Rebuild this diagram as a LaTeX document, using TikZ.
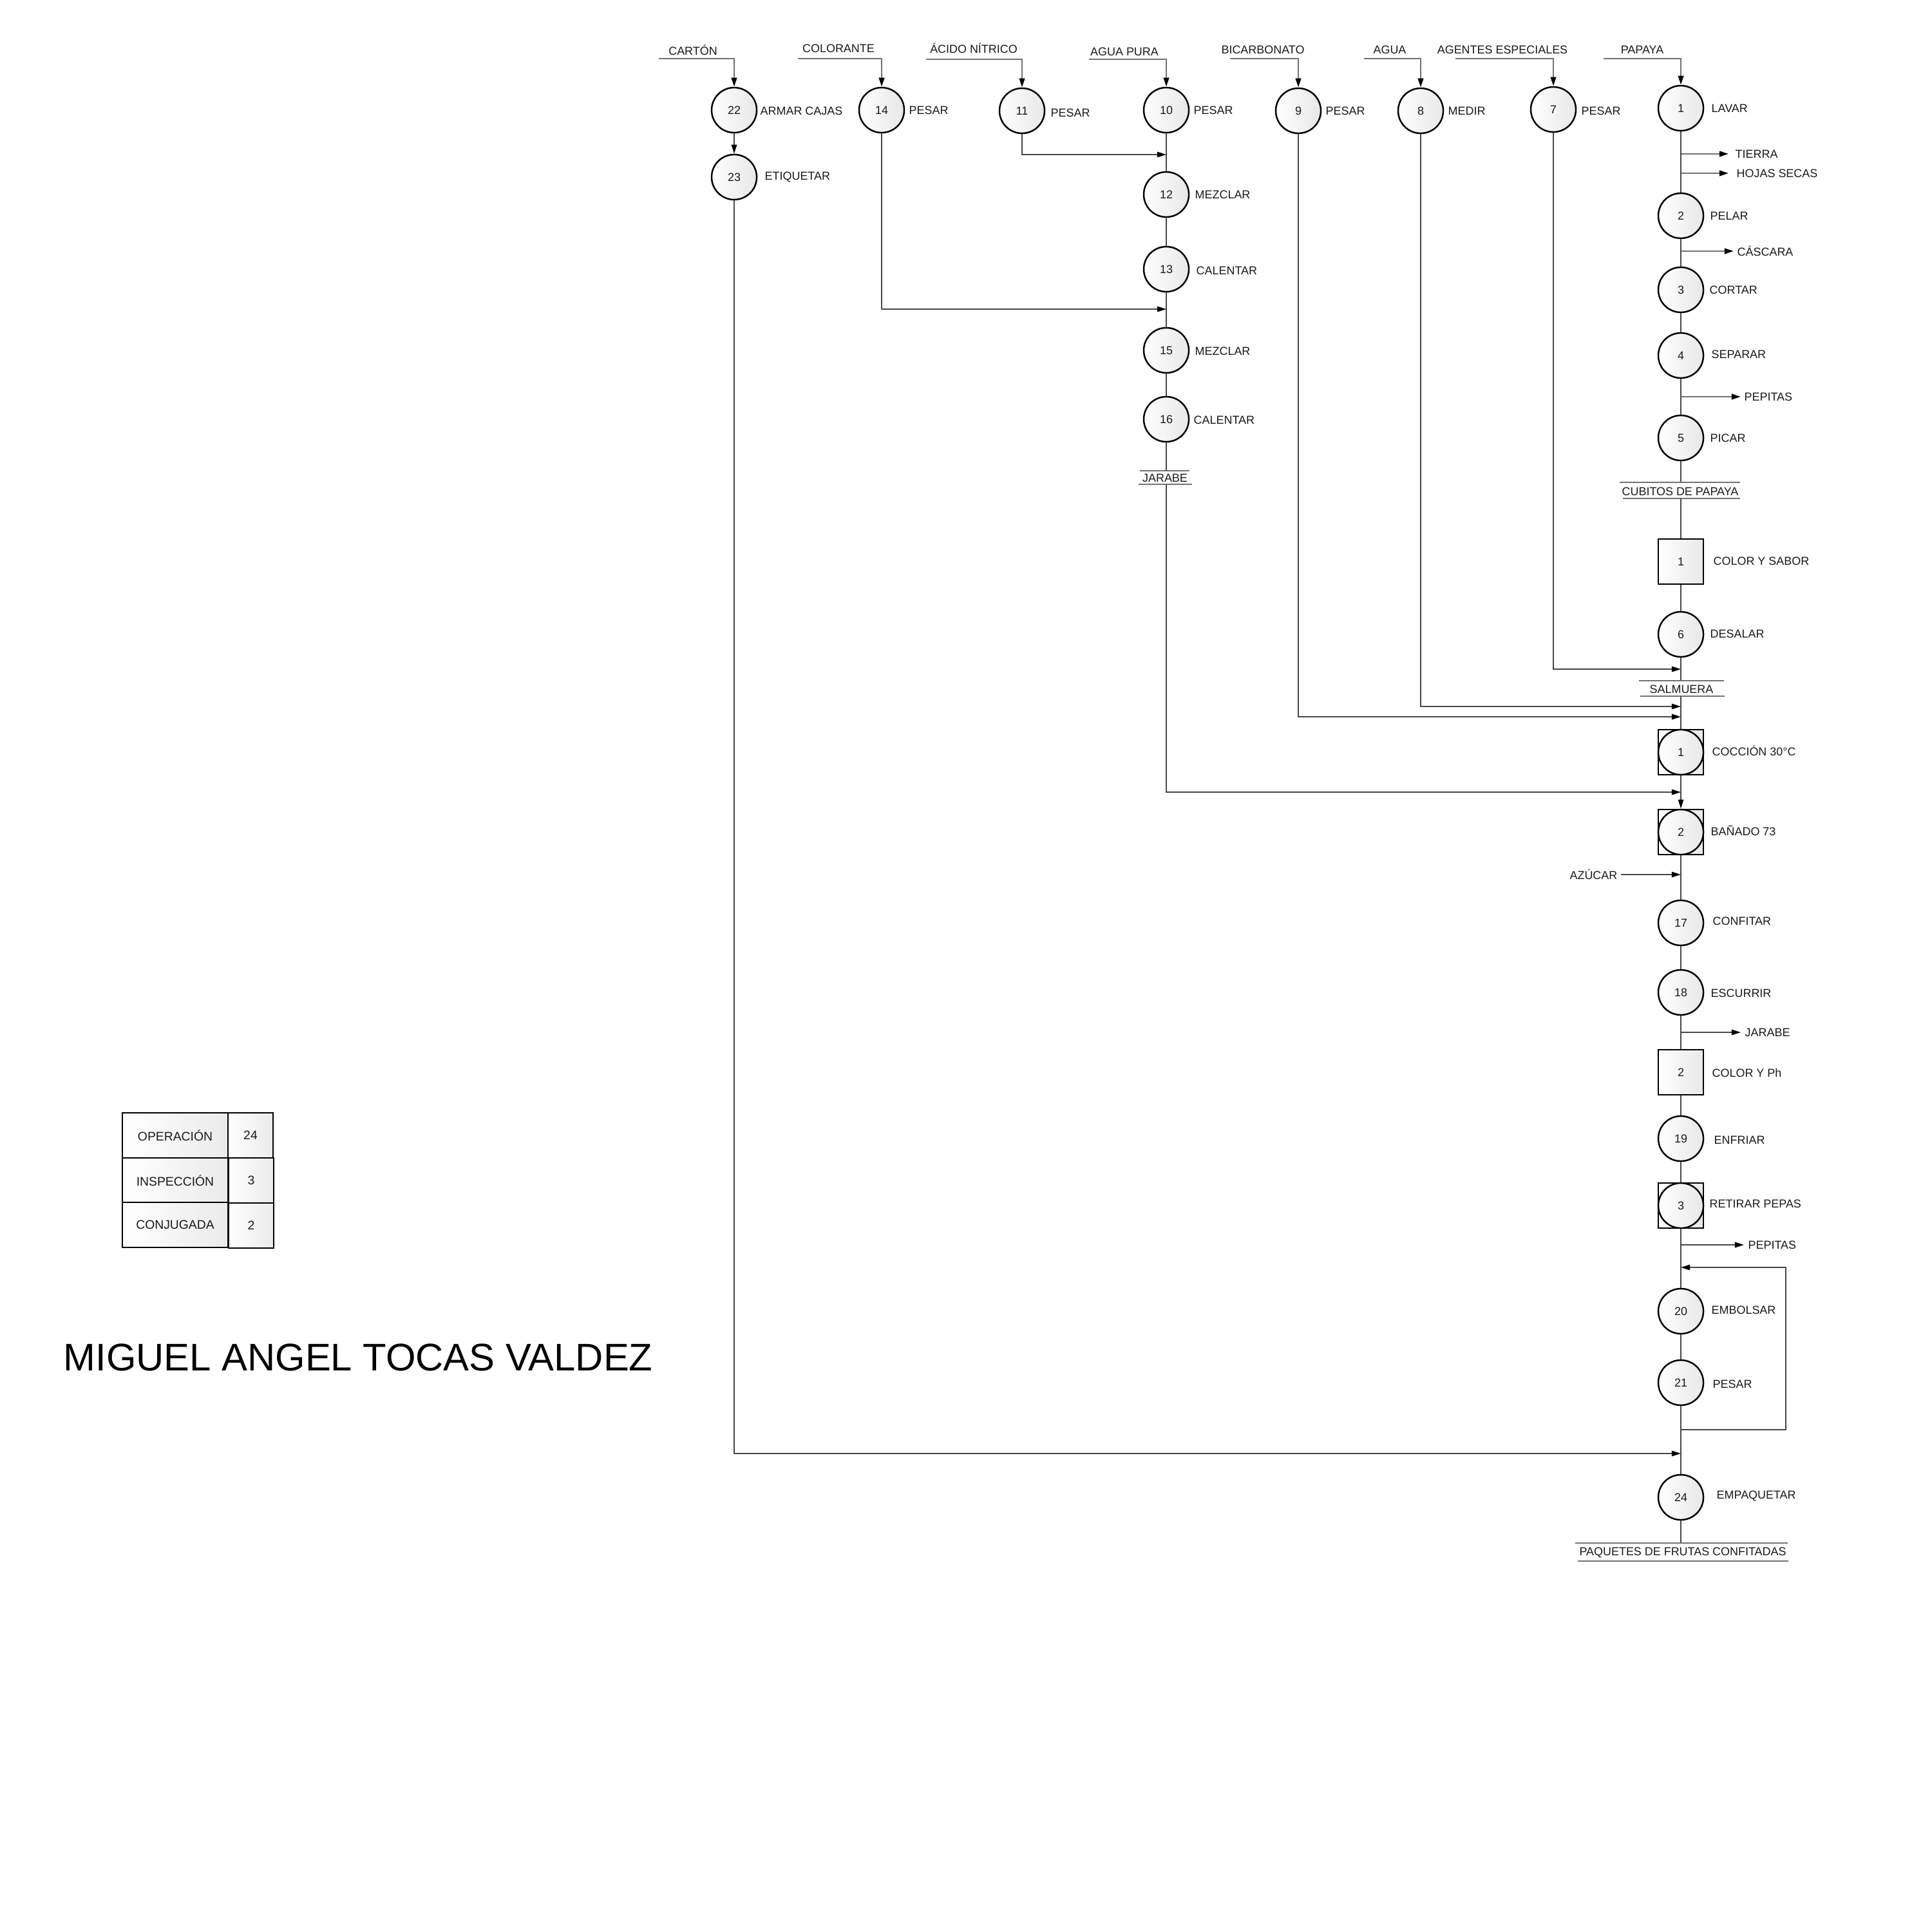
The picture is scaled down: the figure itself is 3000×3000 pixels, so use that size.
\documentclass[tikz,border=0pt]{standalone}
\usepackage{fontspec}
\setmainfont{Liberation Sans}
\usetikzlibrary{arrows.meta,calc}
\begin{document}
\begin{tikzpicture}[x=0.01cm,y=-0.01cm,
  every node/.style={font=\fontsize{5.1}{6}\selectfont,text=black!90,inner sep=0pt},
  op/.style={circle,draw=black,line width=0.7pt,minimum size=0.7cm,left color=white,right color=black!9},
  sq/.style={rectangle,draw=black,line width=0.8pt,minimum size=0.7cm,left color=white,right color=black!9},
  lab/.style={anchor=west},
  conn/.style={draw=black!72,line width=0.5pt},
  inl/.style={draw=black!55,line width=0.75pt},
  arr/.style={-{Triangle[length=4pt,width=2.4pt,black]}},
  cell/.style={rectangle,draw=black,line width=0.8pt,minimum height=0.7cm,left color=white,right color=black!8,font=\fontsize{5.5}{6.5}\selectfont},
  rule/.style={draw=black!55,line width=0.75pt}
]
\fill[white] (0,0) rectangle (3000,3000);
\useasboundingbox (0,0) rectangle (3000,3000);

% ---------- top row operations ----------
\node[op] (o22) at (1140,171) {22};
\node[op] (o14) at (1369,171) {14};
\node[op] (o11) at (1587,172) {11};
\node[op] (o10) at (1811,171) {10};
\node[op] (o9)  at (2016,172) {9};
\node[op] (o8)  at (2206,172) {8};
\node[op] (o7)  at (2412,170) {7};
\node[op] (o1)  at (2610,168) {1};

\node[lab] (l22) at (1180,172) {ARMAR CAJAS};
\node[lab] (l14) at (1411,171) {PESAR};
\node[lab] (l11) at (1631,175) {PESAR};
\node[lab] (l10) at (1853,171) {PESAR};
\node[lab] (l9)  at (2058,172) {PESAR};
\node[lab] (l8)  at (2248,172) {MEDIR};
\node[lab] (l7)  at (2455,172) {PESAR};
\node[lab] (l1)  at (2657,168) {LAVAR};

% ---------- input labels ----------
\node (tcarton) at (1076,78) {CARTÓN};
\node (tcolor)  at (1302,75) {COLORANTE};
\node (tacido)  at (1512,75) {ÁCIDO NÍTRICO};
\node (tagpura) at (1746,80) {AGUA PURA};
\node (tbicar)  at (1961,77) {BICARBONATO};
\node (tagua)   at (2158,77) {AGUA};
\node (tagent)  at (2333,77) {AGENTES ESPECIALES};
\node (tpapaya) at (2550,77) {PAPAYA};

\coordinate (a22) at (1023,91);  \coordinate (b22) at (1140,91);
\coordinate (a14) at (1239,91);  \coordinate (b14) at (1369,91);
\coordinate (a11) at (1438,92);  \coordinate (b11) at (1587,92);
\coordinate (a10) at (1691,92);  \coordinate (b10) at (1811,92);
\coordinate (a9)  at (1910,91);  \coordinate (b9)  at (2016,91);
\coordinate (a8)  at (2118,91);  \coordinate (b8)  at (2206,91);
\coordinate (a7)  at (2260,91);  \coordinate (b7)  at (2412,91);
\coordinate (a1)  at (2490,91);  \coordinate (b1)  at (2610,91);

\draw[inl,arr] (a22) -- (b22) -- (o22);
\draw[inl,arr] (a14) -- (b14) -- (o14);
\draw[inl,arr] (a11) -- (b11) -- (o11);
\draw[inl,arr] (a10) -- (b10) -- (o10);
\draw[inl,arr] (a9)  -- (b9)  -- (o9);
\draw[inl,arr] (a8)  -- (b8)  -- (o8);
\draw[inl,arr] (a7)  -- (b7)  -- (o7);
\draw[inl,arr] (a1)  -- (b1)  -- (o1);

% ---------- left column (boxes) ----------
\node[op] (o23) at (1140,275) {23};
\node[lab] (l23) at (1187,275) {ETIQUETAR};
\draw[conn,arr] (o22) -- (o23);

% ---------- syrup column ----------
\node[op] (o12) at (1811,302) {12};
\node[op] (o13) at (1811,418) {13};
\node[op] (o15) at (1811,544) {15};
\node[op] (o16) at (1811,651) {16};
\node[lab] (l12) at (1855,302) {MEZCLAR};
\node[lab] (l13) at (1857,420) {CALENTAR};
\node[lab] (l15) at (1855,545) {MEZCLAR};
\node[lab] (l16) at (1853,652) {CALENTAR};

\coordinate (j11) at (1587,240); \coordinate (m11) at (1811,240);
\coordinate (j14) at (1369,480); \coordinate (m14) at (1811,480);
\draw[conn] (o10) -- (o12);
\draw[conn,arr] (o11) -- (j11) -- (m11);
\draw[conn] (o12) -- (o13);
\draw[conn] (o13) -- (o15);
\draw[conn,arr] (o14) -- (j14) -- (m14);
\draw[conn] (o15) -- (o16);

\node (tjar1) at (1809,742) {JARABE};
\draw[rule] (1770,731) -- (1847,731);
\draw[rule] (1768,752) -- (1851,752);
\coordinate (jarT) at (1811,731); \coordinate (jarB) at (1811,752);
\draw[conn] (o16) -- (jarT);

% ---------- main column ----------
\node[op] (o2) at (2610,335) {2};
\node[op] (o3) at (2610,450) {3};
\node[op] (o4) at (2610,552) {4};
\node[op] (o5) at (2610,680) {5};
\node[sq] (i1) at (2610,872) {1};
\node[op] (o6) at (2610,985) {6};
\node[sq] (c1) at (2610,1168) {};
\node[op] (c1c) at (2610,1168) {1};
\node[sq] (c2) at (2610,1292) {};
\node[op] (c2c) at (2610,1292) {2};
\node[op] (o17) at (2610,1433) {17};
\node[op] (o18) at (2610,1541) {18};
\node[sq] (i2) at (2610,1665) {2};
\node[op] (o19) at (2610,1768) {19};
\node[sq] (c3) at (2610,1872) {};
\node[op] (c3c) at (2610,1872) {3};
\node[op] (o20) at (2610,2036) {20};
\node[op] (o21) at (2610,2147) {21};
\node[op] (o24) at (2610,2325) {24};

\node[lab] (l2)  at (2655,335) {PELAR};
\node[lab] (l3)  at (2654,450) {CORTAR};
\node[lab] (l4)  at (2657,550) {SEPARAR};
\node[lab] (l5)  at (2655,680) {PICAR};
\node[lab] (li1) at (2660,871) {COLOR Y SABOR};
\node[lab] (l6)  at (2655,984) {DESALAR};
\node[lab] (lc1) at (2658,1166) {COCCIÓN 30°C};
\node[lab] (lc2) at (2656,1290) {BAÑADO 73};
\node[lab] (l17) at (2659,1430) {CONFITAR};
\node[lab] (l18) at (2656,1542) {ESCURRIR};
\node[lab] (li2) at (2658,1666) {COLOR Y Ph};
\node[lab] (l19) at (2661,1770) {ENFRIAR};
\node[lab] (lc3) at (2654,1869) {RETIRAR PEPAS};
\node[lab] (l20) at (2657,2034) {EMBOLSAR};
\node[lab] (l21) at (2659,2149) {PESAR};
\node[lab] (l24) at (2665,2323) {EMPAQUETAR};

% outputs
\node[lab] (ttierra) at (2694,239) {TIERRA};
\node[lab] (thojas)  at (2696,269) {HOJAS SECAS};
\node[lab] (tcasc)   at (2697,390) {CÁSCARA};
\node[lab] (tpep1)   at (2708,616) {PEPITAS};
\node[lab] (tjar2)   at (2709,1603) {JARABE};
\node[lab] (tpep2)   at (2714,1933) {PEPITAS};
\coordinate (xtierra) at (2610,239);
\coordinate (xhojas)  at (2610,269);
\coordinate (xcasc)   at (2610,390);
\coordinate (xpep1)   at (2610,616);
\coordinate (xjar2)   at (2610,1603);
\coordinate (xpep2)   at (2610,1933);
\draw[inl,arr,shorten >=0.1cm] (xtierra) -- (ttierra.west);
\draw[inl,arr,shorten >=0.12cm] (xhojas) -- (thojas.west);
\draw[inl,arr,shorten >=0.05cm] (xcasc) -- (tcasc.west);
\draw[inl,arr,shorten >=0.05cm] (xpep1) -- (tpep1.west);
\draw[conn,arr,shorten >=0.06cm] (xjar2) -- (tjar2.west);
\draw[conn,arr,shorten >=0.06cm] (xpep2) -- (tpep2.west);

% main line segments
\draw[conn] (o1) -- (o2);
\draw[conn] (o2) -- (o3);
\draw[conn] (o3) -- (o4);
\draw[conn] (o4) -- (o5);
\coordinate (cubT) at (2610,749); \coordinate (cubB) at (2610,774);
\draw[conn] (o5) -- (cubT);
\node (tcub) at (2609,763) {CUBITOS DE PAPAYA};
\draw[rule] (2515,749) -- (2702,749);
\draw[rule] (2520,774) -- (2702,774);
\draw[conn] (cubB) -- (i1);
\draw[conn] (i1) -- (o6);
\coordinate (salT) at (2610,1057); \coordinate (salB) at (2610,1081);
\draw[conn] (o6) -- (salT);
\node (tsal) at (2611,1070) {SALMUERA};
\draw[rule] (2545,1057) -- (2677,1057);
\draw[rule] (2547,1081) -- (2678,1081);
\draw[conn] (salB) -- (c1);
\draw[conn,arr] (c1) -- (c2);
\draw[conn] (c2) -- (o17);
\draw[conn] (o17) -- (o18);
\draw[conn] (o18) -- (i2);
\draw[conn] (i2) -- (o19);
\draw[conn] (o19) -- (c3);
\draw[conn] (c3) -- (o20);
\draw[conn] (o20) -- (o21);
\draw[conn] (o21) -- (o24);
\coordinate (paqT) at (2610,2396);
\draw[conn] (o24) -- (paqT);
\node (tpaq) at (2613,2411) {PAQUETES DE FRUTAS CONFITADAS};
\draw[rule] (2446,2396) -- (2776,2396);
\draw[rule] (2450,2424) -- (2777,2424);

% side inputs to main line
\coordinate (j7) at (2412,1039); \coordinate (m7) at (2610,1039);
\coordinate (j8) at (2206,1097); \coordinate (m8) at (2610,1097);
\coordinate (j9) at (2016,1113); \coordinate (m9) at (2610,1113);
\draw[conn,arr] (o7) -- (j7) -- (m7);
\draw[conn,arr] (o8) -- (j8) -- (m8);
\draw[conn,arr] (o9) -- (j9) -- (m9);
\coordinate (j16) at (1811,1230); \coordinate (m16) at (2610,1230);
\draw[conn,arr] (jarB) -- (j16) -- (m16);
\node[anchor=east] (tazu) at (2512,1358) {AZÚCAR};
\coordinate (mazu) at (2610,1358);
\draw[conn,arr] ($(tazu.east)+(5,0)$) coordinate (sazu) -- (mazu);
\coordinate (j23) at (1140,2257); \coordinate (m23) at (2610,2257);
\draw[conn,arr] (o23) -- (j23) -- (m23);

% loop
\coordinate (lp1) at (2610,2220); \coordinate (lp2) at (2773,2220);
\coordinate (lp3) at (2773,1968); \coordinate (lp4) at (2610,1968);
\draw[conn,arr] (lp1) -- (lp2) -- (lp3) -- (lp4);

% ---------- legend ----------
\node[cell,minimum width=1.64cm] (g1) at (272,1763) {OPERACIÓN};
\node[cell,minimum width=1.64cm] (g2) at (272,1833) {INSPECCIÓN};
\node[cell,minimum width=1.64cm] (g3) at (272,1902) {CONJUGADA};
\node[cell,minimum width=0.7cm] (n1) at (389,1763) {24};
\node[cell,minimum width=0.7cm] (n2) at (390,1833) {3};
\node[cell,minimum width=0.7cm] (n3) at (390,1903) {2};

% ---------- title ----------
\node[anchor=base west,font=\fontsize{17}{20}\selectfont,text=black] (title) at (98,2128) {MIGUEL ANGEL TOCAS VALDEZ};
\end{tikzpicture}
\end{document}
